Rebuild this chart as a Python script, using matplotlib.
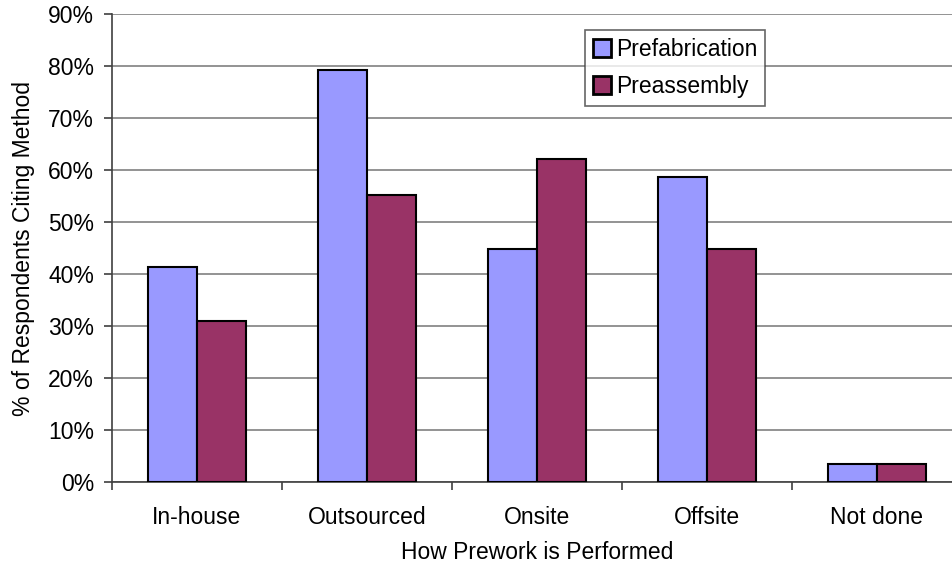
import matplotlib.pyplot as plt
import numpy as np
from matplotlib.ticker import FixedLocator, PercentFormatter

categories = ["In-house", "Outsourced", "Onsite", "Offsite", "Not done"]
prefabrication = [41.4, 79.3, 44.8, 58.6, 3.4]
preassembly = [31.0, 55.2, 62.1, 44.8, 3.4]

plt.rcParams["font.family"] = ["Liberation Sans", "DejaVu Sans"]
FS = 16.5

fig = plt.figure(figsize=(9.53, 5.69), dpi=100)
W, H = 953, 569
# plot area runs off the right edge of the canvas
x0, x1, y0, y1 = 112, 962, 482, 14
ax = fig.add_axes([x0 / W, 1 - y0 / H, (x1 - x0) / W, (y0 - y1) / H])

x = np.arange(len(categories))
bw = 1 / 3.5
ax.bar(x - bw / 2, prefabrication, bw, color="#9999FF", edgecolor="black",
       linewidth=1.5, label="Prefabrication", zorder=3)
ax.bar(x + bw / 2, preassembly, bw, color="#993366", edgecolor="black",
       linewidth=1.5, label="Preassembly", zorder=3)

ax.set_xlim(-0.5, len(categories) - 0.5)
ax.set_ylim(0, 90)
ax.set_yticks(np.arange(0, 91, 10))
ax.yaxis.set_major_formatter(PercentFormatter(decimals=0))
ax.grid(True, axis="y", color="#808080", linewidth=1.2, zorder=0)

ax.set_xticks(x)
ax.set_xticklabels(categories)
ax.xaxis.set_minor_locator(FixedLocator(np.arange(-0.5, len(categories), 1)))
ax.tick_params(axis="x", which="major", length=0, pad=17, labelsize=FS)
ax.tick_params(axis="x", which="minor", length=6, width=1.2, color="#404040")
ax.tick_params(axis="y", length=6, width=1.2, color="#404040", pad=7,
               labelsize=FS)

for side in ("top", "right"):
    ax.spines[side].set_visible(False)
for side in ("left", "bottom"):
    ax.spines[side].set_color("#404040")
    ax.spines[side].set_linewidth(1.2)

ax.set_xlabel("How Prework is Performed", fontsize=FS, labelpad=9)
ax.set_ylabel("% of Respondents Citing Method", fontsize=FS, labelpad=9)

leg = fig.legend(loc="upper left", bbox_to_anchor=(585 / W, 1 - 30 / H),
                 fontsize=FS, frameon=True, fancybox=False, handlelength=0.8,
                 handleheight=0.8, handletextpad=0.2, borderpad=0.35,
                 labelspacing=0.6, borderaxespad=0)
leg.get_frame().set_edgecolor("#404040")
leg.get_frame().set_linewidth(1.2)
for patch in leg.get_patches():
    patch.set_linewidth(2)

fig.savefig("out.png", dpi=100)
